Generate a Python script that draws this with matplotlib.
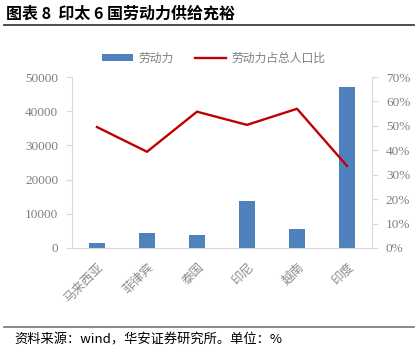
import matplotlib.pyplot as plt
from matplotlib.lines import Line2D
from matplotlib.ticker import FuncFormatter

plt.rcParams['font.family'] = ['Noto Sans CJK SC', 'DejaVu Sans']

countries = ["马来西亚", "菲律宾", "泰国", "印尼", "越南", "印度"]
labor = [1550, 4300, 3800, 13800, 5550, 47000]
labor_share = [49.5, 39.4, 55.8, 50.4, 57.0, 33.6]

grey = "#7f7f7f"
axis_grey = "#d9d9d9"

fig = plt.figure(figsize=(4.18, 3.58), dpi=100)
ax = fig.add_axes([72 / 418, 1 - 248 / 358, 300 / 418, 171 / 358])
ax2 = ax.twinx()

x = range(len(countries))
ax.bar(x, labor, width=0.31, color="#4F81BD", label="劳动力", zorder=2)
ax2.plot(x, labor_share, color="#C00000", lw=1.7, label="劳动力占总人口比")

ax.set_xlim(-0.5, 5.5)
ax.set_ylim(0, 50000)
ax2.set_ylim(0, 70)
ax.set_yticks(range(0, 50001, 10000))
ax2.set_yticks(range(0, 71, 10))
ax2.yaxis.set_major_formatter(FuncFormatter(lambda v, p: f"{int(v)}%"))

ax.set_xticks(list(x))
ax.set_xticklabels(countries, rotation=45, ha="right", rotation_mode="anchor",
                   fontsize=9, color="#8c8c8c", fontweight="light")
ax.tick_params(axis="x", length=0, pad=9)

for a in (ax, ax2):
    for s in a.spines.values():
        s.set_visible(False)
ax.spines["bottom"].set_visible(True)
ax.spines["bottom"].set_color(axis_grey)
ax.spines["left"].set_visible(True)
ax.spines["left"].set_color(axis_grey)
ax2.spines["right"].set_visible(True)
ax2.spines["right"].set_color(axis_grey)

ax.tick_params(axis="y", length=4, color=axis_grey, labelcolor=grey, pad=6)
ax2.tick_params(axis="y", length=4, color=axis_grey, labelcolor=grey, pad=6)
for lbl in ax.get_yticklabels() + ax2.get_yticklabels():
    lbl.set_family("Liberation Serif")
    lbl.set_fontsize(9.5)

h1, l1 = ax.get_legend_handles_labels()
h2, l2 = ax2.get_legend_handles_labels()
fig.legend(h1 + h2, l1 + l2, loc="center", bbox_to_anchor=(214 / 418, 1 - 58 / 358),
           ncol=2, frameon=False, fontsize=8.5, labelcolor=grey,
           handlelength=2.6, handleheight=0.5, columnspacing=1.8, handletextpad=0.5)

fig.text(6 / 418, 1 - 14 / 358, "图表 8  印太 6 国劳动力供给充裕", fontsize=11.5,
         fontweight="bold", va="center", ha="left")
fig.add_artist(Line2D([4 / 418, 414 / 418], [1 - 25 / 358, 1 - 25 / 358],
                      color="#404040", lw=1.3))
fig.add_artist(Line2D([4 / 418, 414 / 418], [1 - 327 / 358, 1 - 327 / 358],
                      color="#808080", lw=1.3))
fig.text(14 / 418, 1 - 340 / 358, "资料来源：wind，华安证券研究所。单位：%", fontsize=9.5,
         va="center", ha="left")

fig.savefig("out.png", dpi=100)
